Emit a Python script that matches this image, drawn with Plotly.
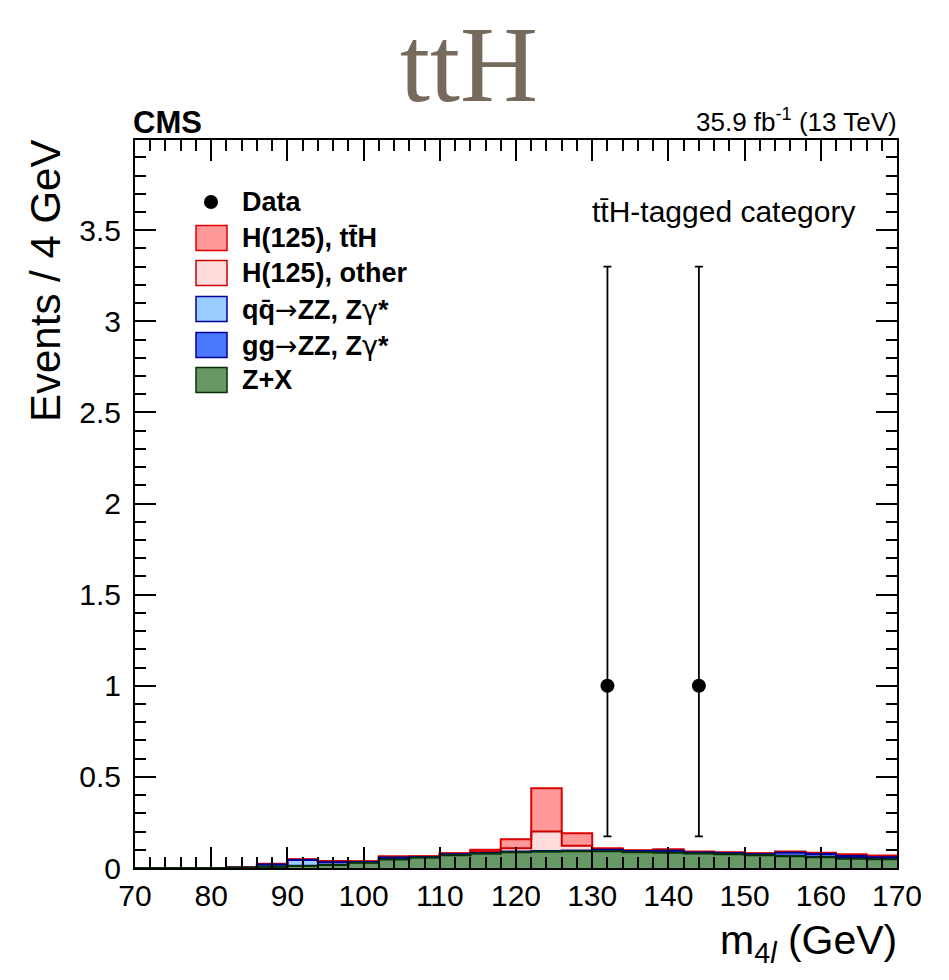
import plotly.graph_objects as go

# ---------------- data ----------------
bin_edges = [70, 74, 78, 82, 86, 90, 94, 98, 102, 106, 110, 114, 118, 122, 126,
             130, 134, 138, 142, 146, 150, 154, 158, 162, 166, 170]
bin_centers = [72, 76, 80, 84, 88, 92, 96, 100, 104, 108, 112, 116, 120, 124, 128,
               132, 136, 140, 144, 148, 152, 156, 160, 164, 168]

zx = [0, 0, 0, 0.001, 0.007, 0.011, 0.016, 0.029, 0.046, 0.057, 0.070, 0.079, 0.086,
      0.090, 0.092, 0.092, 0.086, 0.084, 0.079, 0.075, 0.070, 0.064, 0.059, 0.051, 0.048]
gg_zz = [0, 0, 0, 0, 0.001, 0.002, 0.002, 0.002, 0.003, 0.002, 0.002, 0.002, 0.002,
         0.002, 0.002, 0.004, 0.004, 0.006, 0.004, 0.004, 0.004, 0.004, 0.004, 0.005, 0.005]
qq_zz = [0, 0, 0, 0, 0.011, 0.031, 0.013, 0.002, 0.008, 0.002, 0.003, 0.002, 0.002,
         0.001, 0.001, 0.004, 0.003, 0.005, 0.002, 0.002, 0.002, 0.016, 0.014, 0.010, 0.006]
h_other = [0, 0, 0, 0.002, 0.002, 0.002, 0.003, 0.002, 0.004, 0.002, 0.004, 0.008, 0.018,
           0.107, 0.027, 0.004, 0.002, 0.004, 0.003, 0.003, 0.003, 0.004, 0.004, 0.005, 0.005]
h_tth = [0, 0, 0, 0.001, 0.003, 0.002, 0.004, 0.002, 0.003, 0.001, 0.002, 0.009, 0.050,
         0.238, 0.069, 0.004, 0.002, 0.004, 0.002, 0.002, 0.002, 0.002, 0.003, 0.004, 0.004]

data_x = [132, 144]
data_y = [1, 1]
data_err_up = [2.30, 2.30]
data_err_dn = [0.827, 0.827]

x_ticks = [70, 80, 90, 100, 110, 120, 130, 140, 150, 160, 170]
y_ticks = [0, 0.5, 1, 1.5, 2, 2.5, 3, 3.5]
y_tick_labels = ["0", "0.5", "1", "1.5", "2", "2.5", "3", "3.5"]

# ---------------- styles ----------------
ARROW = '<span style="font-family:DejaVu Sans;font-weight:normal">→</span>'
GAMMA = '<span style="font-family:DejaVu Sans;font-weight:normal">γ</span>'
components = [
    ("Z+X", zx, "#669966", "#003300"),
    ("gg" + ARROW + "ZZ, Z" + GAMMA + "*", gg_zz, "#4b78ff", "#000099"),
    ("qq̄" + ARROW + "ZZ, Z" + GAMMA + "*", qq_zz, "#99ccff", "#000099"),
    ("H(125), other", h_other, "#ffdcdc", "#cc0000"),
    ("H(125), tt̄H", h_tth, "#ff9999", "#dd0000"),
]

FONT = "Liberation Sans, Arial, Helvetica, sans-serif"

fig = go.Figure()

# stacked fills
for name, vals, fill, line in components:
    fig.add_trace(go.Bar(x=bin_centers, y=vals, width=4, marker=dict(color=fill, line=dict(width=0)),
                         showlegend=False, hoverinfo="skip"))

# step outlines of cumulative stacks
cum = [0.0] * len(bin_centers)
cums = []
for name, vals, fill, line in components:
    cum = [c + v for c, v in zip(cum, vals)]
    cums.append((list(cum), line))
for cvals, line in reversed(cums):
    fig.add_trace(go.Scatter(x=bin_edges, y=cvals + [cvals[-1]], mode="lines",
                             line=dict(color=line, width=2, shape="hv"),
                             showlegend=False, hoverinfo="skip"))

# data points
fig.add_trace(go.Scatter(x=data_x, y=data_y, mode="markers",
                         marker=dict(color="black", size=14),
                         error_y=dict(type="data", symmetric=False, array=data_err_up,
                                      arrayminus=data_err_dn, color="black", thickness=1.8, width=4),
                         showlegend=False))

fig.update_layout(
    width=949, height=980, autosize=False,
    margin=dict(l=135, r=52, t=140, b=112),
    paper_bgcolor="white", plot_bgcolor="white",
    barmode="stack", bargap=0,
    font=dict(family=FONT, color="black", size=24),
)

fig.update_xaxes(range=[70, 170], tickvals=x_ticks, ticks="inside", ticklen=21, tickwidth=2,
                 tickcolor="black", showline=True, linecolor="black", linewidth=2, mirror="allticks",
                 showgrid=False, zeroline=False, tickfont=dict(size=30, family=FONT),
                 minor=dict(dtick=2, ticks="inside", ticklen=11, tickwidth=2, tickcolor="black", showgrid=False))
fig.update_yaxes(range=[0, 3.995], tickvals=y_ticks, ticktext=y_tick_labels, ticks="inside", ticklen=21,
                 tickwidth=2, tickcolor="black", showline=True, linecolor="black", linewidth=2,
                 mirror="allticks", showgrid=False, zeroline=False, tickfont=dict(size=30, family=FONT),
                 ticklabelstandoff=6,
                 minor=dict(dtick=0.1, tick0=0, ticks="inside", ticklen=11, tickwidth=2, tickcolor="black",
                            showgrid=False))

PW, PH, L, B = 762.0, 728.0, 135.0, 868.0


def px(xp):
    return (xp - L) / PW


def py(yp):
    return (B - yp) / PH


ann = []
ann.append(dict(text="ttH", x=px(469), y=py(65), xref="paper", yref="paper", showarrow=False,
                font=dict(family="Liberation Serif, Times New Roman, serif", size=108, color="#756a5c"),
                xanchor="center", yanchor="middle"))
ann.append(dict(text="<b>CMS</b>", x=px(131), y=py(122), xref="paper", yref="paper", showarrow=False,
                font=dict(size=31), xanchor="left", yanchor="middle"))
ann.append(dict(text="35.9 fb<sup>-1</sup> (13 TeV)", x=px(899), y=py(120), xref="paper", yref="paper",
                showarrow=False, font=dict(size=26), xanchor="right", yanchor="middle"))
ann.append(dict(text="tt̄H-tagged category", x=px(857), y=py(211), xref="paper", yref="paper",
                showarrow=False, font=dict(size=30), xanchor="right", yanchor="middle"))
ann.append(dict(text="Events / 4 GeV", x=px(45), y=py(138), xref="paper", yref="paper", showarrow=False,
                textangle=-90, font=dict(size=42), xanchor="center", yanchor="top"))
ann.append(dict(text="m<sub>4<i>l</i></sub> (GeV)", x=px(899), y=py(943), xref="paper", yref="paper",
                showarrow=False, font=dict(size=41), xanchor="right", yanchor="middle"))

# legend (manual)
legend_rows = [("Data", None, None, 202),
               ("H(125), tt̄H", "#ff9999", "#dd0000", 238),
               ("H(125), other", "#ffdcdc", "#cc0000", 273),
               ("qq̄" + ARROW + "ZZ, Z" + GAMMA + "*", "#99ccff", "#000099", 309),
               ("gg" + ARROW + "ZZ, Z" + GAMMA + "*", "#4b78ff", "#000099", 345),
               ("Z+X", "#669966", "#003300", 380)]
shapes = []
for label, fill, line, yc in legend_rows:
    if fill is None:
        shapes.append(dict(type="circle", xref="paper", yref="paper",
                           x0=px(204), x1=px(218), y0=py(209), y1=py(195),
                           fillcolor="black", line=dict(color="black", width=0)))
    else:
        shapes.append(dict(type="rect", xref="paper", yref="paper",
                           x0=px(196), x1=px(227), y0=py(yc + 12.5), y1=py(yc - 12.5),
                           fillcolor=fill, line=dict(color=line, width=1.5)))
    ann.append(dict(text="<b>" + label + "</b>", x=px(240), y=py(yc), xref="paper", yref="paper",
                    showarrow=False, font=dict(size=27), xanchor="left", yanchor="middle"))

fig.update_layout(annotations=ann, shapes=shapes)
fig.write_html("out.html")
